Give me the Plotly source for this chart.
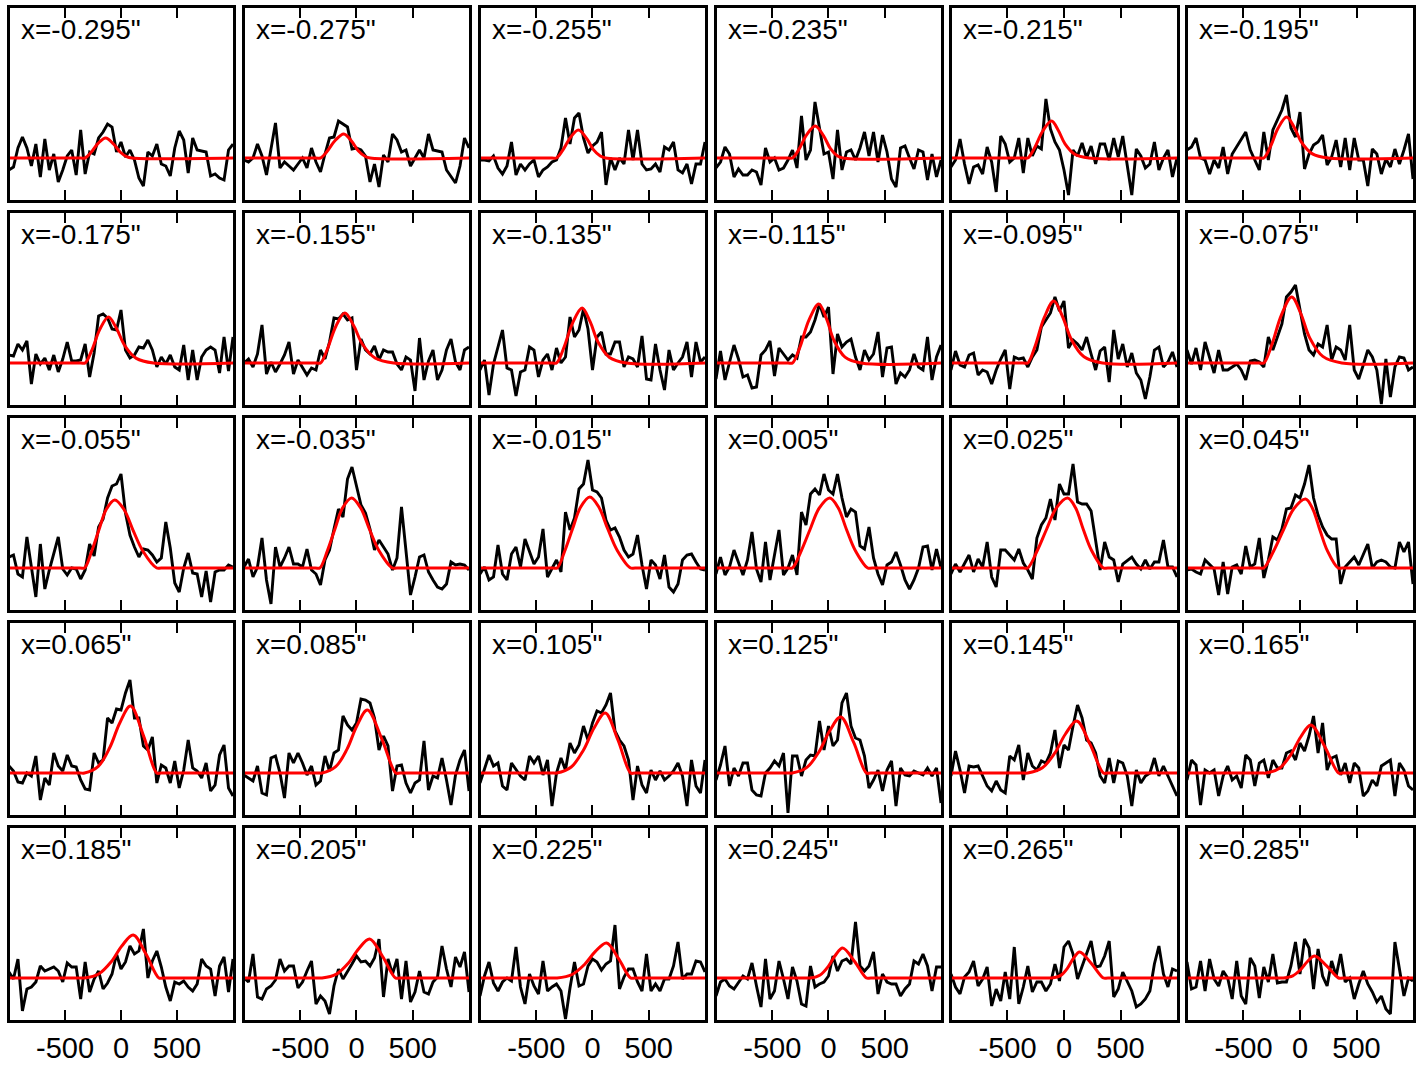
import plotly.graph_objects as go

# channel velocities (km/s)
velocity = list(range(-1000, 1001, 40))

# slit offsets labelling each panel
offsets = ['-0.295', '-0.275', '-0.255', '-0.235', '-0.215', '-0.195',
           '-0.175', '-0.155', '-0.135', '-0.115', '-0.095', '-0.075',
           '-0.055', '-0.035', '-0.015', '0.005', '0.025', '0.045',
           '0.065', '0.085', '0.105', '0.125', '0.145', '0.165',
           '0.185', '0.205', '0.225', '0.245', '0.265', '0.285']

tick_vals = [-500, 0, 500]
tick_text = ['-500', '0', '500']

# observed spectra (flux, arbitrary units), one per panel
spec_01 = [-12,-9,10,21,10,-8,14,-19,19,-12,4,-24,-12,2,8,-17,28,-16,6,4,20,26,34,31,6,16,1,8,-2,-20,-28,6,2,14,-6,-8,-18,10,27,18,-15,20,8,7,6,-18,-16,-20,-22,8,14]
spec_02 = [-2,-4,0,14,2,-17,9,35,-10,-4,-8,-12,-6,0,-10,10,-4,-14,4,20,21,37,34,31,9,10,8,2,-24,-6,-29,3,-4,24,18,6,8,-8,0,8,0,24,8,7,6,-12,-18,-25,-8,20,10]
spec_03 = [-2,-2,-3,2,-10,-16,-8,16,-17,-6,-12,-6,-2,-19,-12,-9,-4,-2,10,40,14,40,45,20,5,12,16,26,-27,0,-12,0,-6,28,-2,28,-6,-12,-11,-6,-14,11,8,16,-12,-15,-6,-26,-6,-6,16]
spec_04 = [-10,-4,11,4,-19,-11,-17,-17,-12,-14,-27,10,-4,0,-12,-10,-2,8,-10,42,-2,8,56,28,4,6,-21,28,-12,6,8,-2,10,26,2,26,-4,23,6,-21,-29,10,12,0,-11,8,6,-22,4,-19,-2]
spec_05 = [-9,-2,19,-6,-26,-9,-7,-16,11,-4,-34,22,14,-4,0,20,-15,20,2,12,9,59,29,16,8,-12,-37,8,2,15,0,12,-6,14,14,-2,20,1,22,-6,-37,9,2,-10,-6,16,-12,0,8,-19,0]
spec_06 = [8,11,20,0,-2,-16,-2,-10,11,-16,4,11,18,26,8,-2,-12,26,-2,28,38,48,63,30,21,46,-11,4,13,16,23,-7,1,18,-9,20,-12,20,-2,-2,-28,9,4,-16,-1,-9,9,-6,8,24,-21]
spec_07 = [8,7,19,13,22,-21,9,-1,5,-7,8,-9,4,21,2,2,3,19,-14,10,47,49,45,34,33,53,13,5,8,16,15,23,13,-4,6,-1,8,-4,-7,18,-17,13,-17,6,13,16,13,-10,26,-8,26]
spec_08 = [0,4,-4,9,38,-11,1,-9,-1,8,21,-11,3,-4,-12,-5,-7,13,4,21,45,44,49,43,45,-7,24,13,9,17,3,13,11,11,-1,-7,6,3,-28,25,-17,2,13,-17,-7,13,24,1,-7,13,16]
spec_09 = [-7,3,-32,-1,16,33,-5,-7,-33,-9,-7,16,13,-14,3,9,-7,15,0,6,46,26,33,54,34,-7,26,31,9,9,21,21,-4,6,4,-4,27,-16,-17,19,-7,-27,13,-7,0,6,21,-14,21,1,6]
spec_10 = [-16,12,-17,0,18,4,-14,-12,-25,-24,8,13,22,-13,15,9,3,8,5,26,26,31,43,59,46,56,-11,29,16,21,24,6,-7,13,3,9,31,-14,15,16,-21,-10,-14,-7,9,-4,-7,26,-17,6,18]
spec_11 = [-7,12,-2,-4,8,10,-12,-7,-9,-21,-7,4,13,-26,6,4,5,-4,6,13,36,43,50,66,52,62,15,23,19,13,26,9,-7,12,16,-19,33,4,19,-4,10,-10,-17,-36,-14,13,16,-4,1,11,-4]
spec_12 = [13,-1,15,-7,21,5,-10,13,-7,-7,-4,-1,-7,-17,2,3,1,-4,26,13,26,39,66,71,78,53,29,13,8,19,16,38,3,16,13,3,38,-7,-16,-2,13,6,-7,-41,4,-34,-4,6,5,-7,-4]
spec_13 = [11,13,-6,-9,31,1,-29,24,-21,-2,14,31,-1,-7,0,-1,-11,-2,24,12,41,49,70,82,84,94,55,33,21,11,19,18,13,6,10,46,20,-15,-24,0,15,-5,-6,-29,-3,-34,-4,-2,-2,3,1]
spec_14 = [1,9,-9,1,30,-12,-36,21,1,10,21,4,4,1,19,-2,-6,-17,8,18,39,59,51,89,101,81,63,55,39,18,28,21,14,-2,10,61,19,-27,-9,11,13,-4,-12,-19,-21,-16,6,3,4,3,-2]
spec_15 = [-6,1,-12,-9,23,-6,-12,14,21,1,29,16,4,11,39,-9,-1,8,-4,56,38,50,79,84,108,78,76,70,48,38,40,31,18,11,14,33,3,-21,8,3,-11,13,-19,-24,-16,8,13,14,6,-1,-2]
spec_16 = [-6,11,-7,1,18,6,-7,8,36,-1,-14,26,-12,13,38,-7,0,13,-7,56,43,74,79,73,94,78,74,94,70,51,59,56,22,19,41,10,-6,-17,3,6,16,3,-12,-21,-12,0,21,22,-2,19,0]
spec_17 = [-6,4,-4,4,13,-4,9,1,26,-9,-19,18,18,13,8,19,5,-2,-11,30,43,50,69,48,84,74,74,104,66,64,64,57,28,-2,26,11,8,-14,4,8,11,4,-1,8,-1,6,6,28,1,1,-9]
spec_18 = [-2,-1,-4,-6,8,4,-1,-27,6,-26,1,3,-6,22,1,4,30,-10,8,31,28,39,59,60,73,70,84,103,70,53,41,33,29,29,-16,1,6,11,3,13,24,0,6,8,6,1,0,26,16,26,-16]
spec_19 = [7,2,-9,-10,0,-3,17,-27,-5,-12,20,7,2,18,7,6,-7,-16,-17,20,10,13,55,50,64,63,80,93,55,55,27,23,36,-10,8,5,-10,12,-15,3,33,5,2,-5,10,-18,-12,18,28,-15,-23]
spec_20 = [-2,-5,-8,7,-20,-22,15,17,0,-25,20,10,20,10,-2,7,-12,-8,17,2,20,23,57,48,43,50,74,73,70,55,23,37,27,-18,7,8,-10,-20,-10,-7,32,-17,-3,-5,15,-7,-32,-2,13,23,-18]
spec_21 = [-10,3,18,7,10,-13,-17,10,3,-3,-7,17,10,17,-2,13,-33,0,15,3,30,20,28,47,33,50,62,60,68,80,42,33,27,13,-27,7,-12,-20,3,-7,2,-7,-3,2,10,-3,-33,13,-13,-20,13]
spec_22 = [-7,8,27,-13,5,-3,10,10,-17,-22,-23,0,5,12,7,20,-40,17,17,-3,13,18,17,52,23,47,27,33,70,80,47,35,33,17,-15,-7,3,-18,3,12,-33,5,-2,-3,2,0,-2,5,-3,5,-30]
spec_23 = [-3,22,3,-20,7,6,7,-3,-13,-18,-8,-17,-20,17,13,28,-7,20,7,3,12,10,20,43,5,28,23,47,68,55,33,30,20,-3,-10,15,-10,12,10,-3,-33,3,-10,-3,0,15,-3,7,-3,-13,-23]
spec_24 = [-7,13,8,-32,3,0,3,-23,-3,7,-7,-3,-15,18,13,-13,10,13,-5,13,5,5,20,22,13,30,22,37,57,20,50,3,15,17,-2,10,-10,10,5,-23,-18,-7,-13,7,10,13,-23,10,3,-13,-17]
spec_25 = [6,-1,19,-33,-11,-9,-4,12,7,9,11,7,-4,15,11,11,-21,16,-14,-1,7,-11,-5,4,24,9,16,32,24,27,49,0,17,27,11,-9,-23,-4,-6,-3,-9,-13,-6,19,12,9,-18,12,21,-14,19]
spec_26 = [0,-4,24,-19,-21,-11,-8,-2,19,7,12,12,-10,-4,7,17,-26,-18,-23,-36,-8,9,-1,6,14,22,16,17,12,20,39,-19,19,4,19,-21,17,-24,-14,7,-14,-16,-4,1,32,9,-9,21,11,26,-14]
spec_27 = [-18,2,16,-5,-13,-4,0,-3,31,-9,-26,4,-8,-16,17,-13,-9,-6,-13,-41,-10,16,-8,-6,12,19,16,8,14,17,53,-11,1,9,9,-4,-13,24,-13,-6,-13,-1,-1,12,36,-1,4,4,17,16,6]
spec_28 = [-18,-4,-1,-8,-11,-5,2,-1,15,-8,-29,19,-21,-13,17,-1,-21,11,-3,-26,-28,12,-9,-6,-4,2,22,7,17,19,14,56,12,7,12,26,-16,4,-4,-6,-6,-18,-11,-6,17,14,24,12,-13,11,11]
spec_29 = [4,-9,-16,1,6,17,-8,-1,11,-28,-11,-23,6,-21,31,-26,-9,12,-14,-4,-4,-13,-6,14,-3,31,37,24,-1,12,26,37,11,12,22,37,-19,-11,6,-4,-13,-29,-26,-21,-13,14,32,4,-9,9,7]
spec_30 = [16,-11,-9,17,-13,19,-1,-8,7,0,-21,17,-18,-26,20,12,-20,11,-4,24,-5,-4,-4,12,36,4,39,30,-11,29,2,-8,17,2,24,-4,0,-21,-6,7,-6,-14,-24,-18,-31,-36,36,9,-18,0,-3]

# fitted line profile, read as (velocity, flux) knots per panel
fit_v_01 = [-1000,-360,-320,-269,-205,-137,-67,-8,50,97,1000]
fit_f_01 = [0,0,0,5.4,14.6,20,14,6,1.4,0,0]
fit_v_02 = [-1000,-360,-320,-262,-190,-113,-43,16,75,122,1000]
fit_f_02 = [0,0,0,6.5,17.5,24,16.8,7.2,1.7,0,0]
fit_v_03 = [-1000,-360,-320,-265,-197,-125,-52,8,69,117,1000]
fit_f_03 = [0,0,0,7.6,20.4,28,19.6,8.4,2,0,0]
fit_v_04 = [-1000,-360,-320,-263,-193,-118,-45,16,77,126,1000]
fit_f_04 = [0,0,0,8.6,23.4,32,22.4,9.6,2.2,0,0]
fit_v_05 = [-1000,-360,-320,-261,-188,-110,-51,9,95,220,1000]
fit_f_05 = [0,0,0,10,27,37,27.8,14.1,3.7,0,0]
fit_v_06 = [-1000,-360,-320,-263,-193,-118,-52,14,110,250,1000]
fit_f_06 = [0,0,0,11,30,41,30.8,15.6,4.1,0,0]
fit_v_07 = [-1000,-360,-320,-262,-189,-112,-40,33,137,290,1000]
fit_f_07 = [0,0,0,12.4,33.6,46,34.5,17.5,4.6,0,0]
fit_v_08 = [-1000,-360,-320,-260,-184,-104,-26,52,165,330,1000]
fit_f_08 = [0,0,0,13.5,36.5,50,37.5,19,5,0,0]
fit_v_09 = [-1000,-360,-320,-256,-176,-92,-21,49,151,300,1000]
fit_f_09 = [0,0,0,14.9,40.2,55,41.3,20.9,5.5,0,0]
fit_v_10 = [-1000,-360,-320,-254,-173,-86,-18,49,147,290,1000]
fit_f_10 = [0,0,0,15.9,43.1,59,44.3,22.4,5.9,0,0]
fit_v_11 = [-1000,-360,-320,-256,-175,-90,-13,65,177,340,1000]
fit_f_11 = [0,0,0,16.7,45.3,62,46.5,23.6,6.2,0,0]
fit_v_12 = [-1000,-360,-320,-251,-164,-73,7,86,202,370,1000]
fit_f_12 = [0,0,0,17.8,48.2,66,49.5,25.1,6.6,0,0]
fit_v_13 = [-1000,-366,-326,-261,-199,-132,-56,27,109,195,319,359,1000]
fit_f_13 = [0,0,0,17,37.4,58.5,68,58.5,37.4,17,0,0,0]
fit_v_14 = [-1000,-366,-326,-258,-193,-123,-44,36,116,199,319,359,1000]
fit_f_14 = [0,0,0,17.5,38.5,60.2,70,60.2,38.5,17.5,0,0,0]
fit_v_15 = [-1000,-354,-314,-244,-178,-105,-24,56,136,219,339,379,1000]
fit_f_15 = [0,0,0,17.8,39,61,71,61,39,17.8,0,0,0]
fit_v_16 = [-1000,-361,-321,-241,-164,-81,12,86,160,238,349,389,1000]
fit_f_16 = [0,0,0,17.5,38.5,60.2,70,60.2,38.5,17.5,0,0,0]
fit_v_17 = [-1000,-361,-321,-236,-155,-67,32,102,171,244,349,389,1000]
fit_f_17 = [0,0,0,17.5,38.5,60.2,70,60.2,38.5,17.5,0,0,0]
fit_v_18 = [-1000,-361,-321,-232,-147,-55,49,112,176,242,337,377,1000]
fit_f_18 = [0,0,0,17.3,38,59.3,69,59.3,38,17.3,0,0,0]
fit_v_19 = [-1000,-366,-326,-203,-100,-10,85,202,319,359,1000]
fit_f_19 = [0,0,0,6.7,25.5,50.3,67,36.9,0,0,0]
fit_v_20 = [-1000,-346,-306,-185,-84,4,97,223,349,389,1000]
fit_f_20 = [0,0,0,6.3,23.9,47.3,63,34.7,0,0,0]
fit_v_21 = [-1000,-358,-318,-189,-81,14,113,226,339,379,1000]
fit_f_21 = [0,0,0,6,22.8,45,60,33,0,0,0]
fit_v_22 = [-1000,-361,-321,-192,-84,10,109,223,337,377,1000]
fit_f_22 = [0,0,0,5.6,21.3,42,56,30.8,0,0,0]
fit_v_23 = [-1000,-361,-321,-191,-82,13,113,231,349,389,1000]
fit_f_23 = [0,0,0,5.2,19.8,39,52,28.6,0,0,0]
fit_v_24 = [-1000,-340,-300,-181,-82,6,97,219,341,381,1000]
fit_f_24 = [0,0,0,4.8,18.2,36,48,26.4,0,0,0]
fit_v_25 = [-1000,-366,-326,-196,-87,9,109,224,339,379,1000]
fit_f_25 = [0,0,0,4.3,16.3,32.3,43,23.7,0,0,0]
fit_v_26 = [-1000,-346,-306,-179,-73,20,117,232,347,387,1000]
fit_f_26 = [0,0,0,3.9,14.8,29.3,39,21.5,0,0,0]
fit_v_27 = [-1000,-354,-314,-182,-73,24,125,232,339,379,1000]
fit_f_27 = [0,0,0,3.5,13.3,26.3,35,19.3,0,0,0]
fit_v_28 = [-1000,-200,-160,-74,-3,60,126,232,337,377,1000]
fit_f_28 = [0,0,0,3,11.4,22.5,30,16.5,0,0,0]
fit_v_29 = [-1000,-150,-110,-29,31,83,138,244,349,389,1000]
fit_f_29 = [0,0,0,2.6,9.9,19.5,26,14.3,0,0,0]
fit_v_30 = [-1000,-187,-147,-64,5,66,130,236,341,381,1000]
fit_f_30 = [0,0,0,2.2,8.4,16.5,22,12.1,0,0,0]

spectra = [spec_01, spec_02, spec_03, spec_04, spec_05, spec_06,
           spec_07, spec_08, spec_09, spec_10, spec_11, spec_12,
           spec_13, spec_14, spec_15, spec_16, spec_17, spec_18,
           spec_19, spec_20, spec_21, spec_22, spec_23, spec_24,
           spec_25, spec_26, spec_27, spec_28, spec_29, spec_30]
fits = [(fit_v_01, fit_f_01), (fit_v_02, fit_f_02), (fit_v_03, fit_f_03),
        (fit_v_04, fit_f_04), (fit_v_05, fit_f_05), (fit_v_06, fit_f_06),
        (fit_v_07, fit_f_07), (fit_v_08, fit_f_08), (fit_v_09, fit_f_09),
        (fit_v_10, fit_f_10), (fit_v_11, fit_f_11), (fit_v_12, fit_f_12),
        (fit_v_13, fit_f_13), (fit_v_14, fit_f_14), (fit_v_15, fit_f_15),
        (fit_v_16, fit_f_16), (fit_v_17, fit_f_17), (fit_v_18, fit_f_18),
        (fit_v_19, fit_f_19), (fit_v_20, fit_f_20), (fit_v_21, fit_f_21),
        (fit_v_22, fit_f_22), (fit_v_23, fit_f_23), (fit_v_24, fit_f_24),
        (fit_v_25, fit_f_25), (fit_v_26, fit_f_26), (fit_v_27, fit_f_27),
        (fit_v_28, fit_f_28), (fit_v_29, fit_f_29), (fit_v_30, fit_f_30)]

# ---- layout geometry (pixels) ----
W, H = 1423, 1065
col_px = [(10, 233), (245, 469), (481, 705), (717, 941), (952, 1177), (1188, 1413)]
row_px = [(8, 200), (213, 405), (418, 610), (623, 815), (828, 1020)]
FONT = 'Liberation Sans, Arial, Helvetica, sans-serif'

fig = go.Figure()
layout = dict(
    width=W, height=H, margin=dict(l=0, r=0, t=0, b=0),
    paper_bgcolor='white', plot_bgcolor='white', showlegend=False,
    font=dict(family=FONT, color='black'),
)
annotations = []

for k in range(30):
    r, c = divmod(k, 6)
    n = k + 1
    xs = '' if n == 1 else str(n)
    x0, x1 = col_px[c]
    y0, y1 = row_px[r]
    layout['xaxis' + xs] = dict(
        domain=[x0 / W, x1 / W], range=[-991, 1000], anchor='y' + xs,
        showgrid=False, zeroline=False, showline=True, linecolor='black',
        linewidth=3, mirror='ticks', ticks='inside', ticklen=10, tickwidth=1.5,
        tickcolor='black', tickmode='array', tickvals=tick_vals, ticktext=tick_text,
        showticklabels=(r == 4), tickfont=dict(size=29, family=FONT, color='black'),
        fixedrange=True,
    )
    layout['yaxis' + xs] = dict(
        domain=[1 - y1 / H, 1 - y0 / H], range=[-42, 150], anchor='x' + xs,
        showgrid=False, zeroline=False, showline=True, linecolor='black',
        linewidth=3, mirror=True, ticks='', showticklabels=False, fixedrange=True,
    )
    fig.add_trace(go.Scatter(
        x=velocity, y=spectra[k], mode='lines',
        line=dict(color='black', width=2.9),
        xaxis='x' + xs, yaxis='y' + xs, hoverinfo='skip'))
    fv, ff = fits[k]
    fig.add_trace(go.Scatter(
        x=fv, y=ff, mode='lines',
        line=dict(color='#ff0000', width=3, shape='spline', smoothing=1),
        xaxis='x' + xs, yaxis='y' + xs, hoverinfo='skip'))
    annotations.append(dict(
        text='x=' + offsets[k] + '"', xref='x' + xs + ' domain', yref='y' + xs + ' domain',
        x=0.04, y=1, yshift=-4, xanchor='left', yanchor='top', showarrow=False,
        font=dict(size=28, family=FONT, color='black')))

layout['annotations'] = annotations
fig.update_layout(**layout)
fig.write_html('out.html')
